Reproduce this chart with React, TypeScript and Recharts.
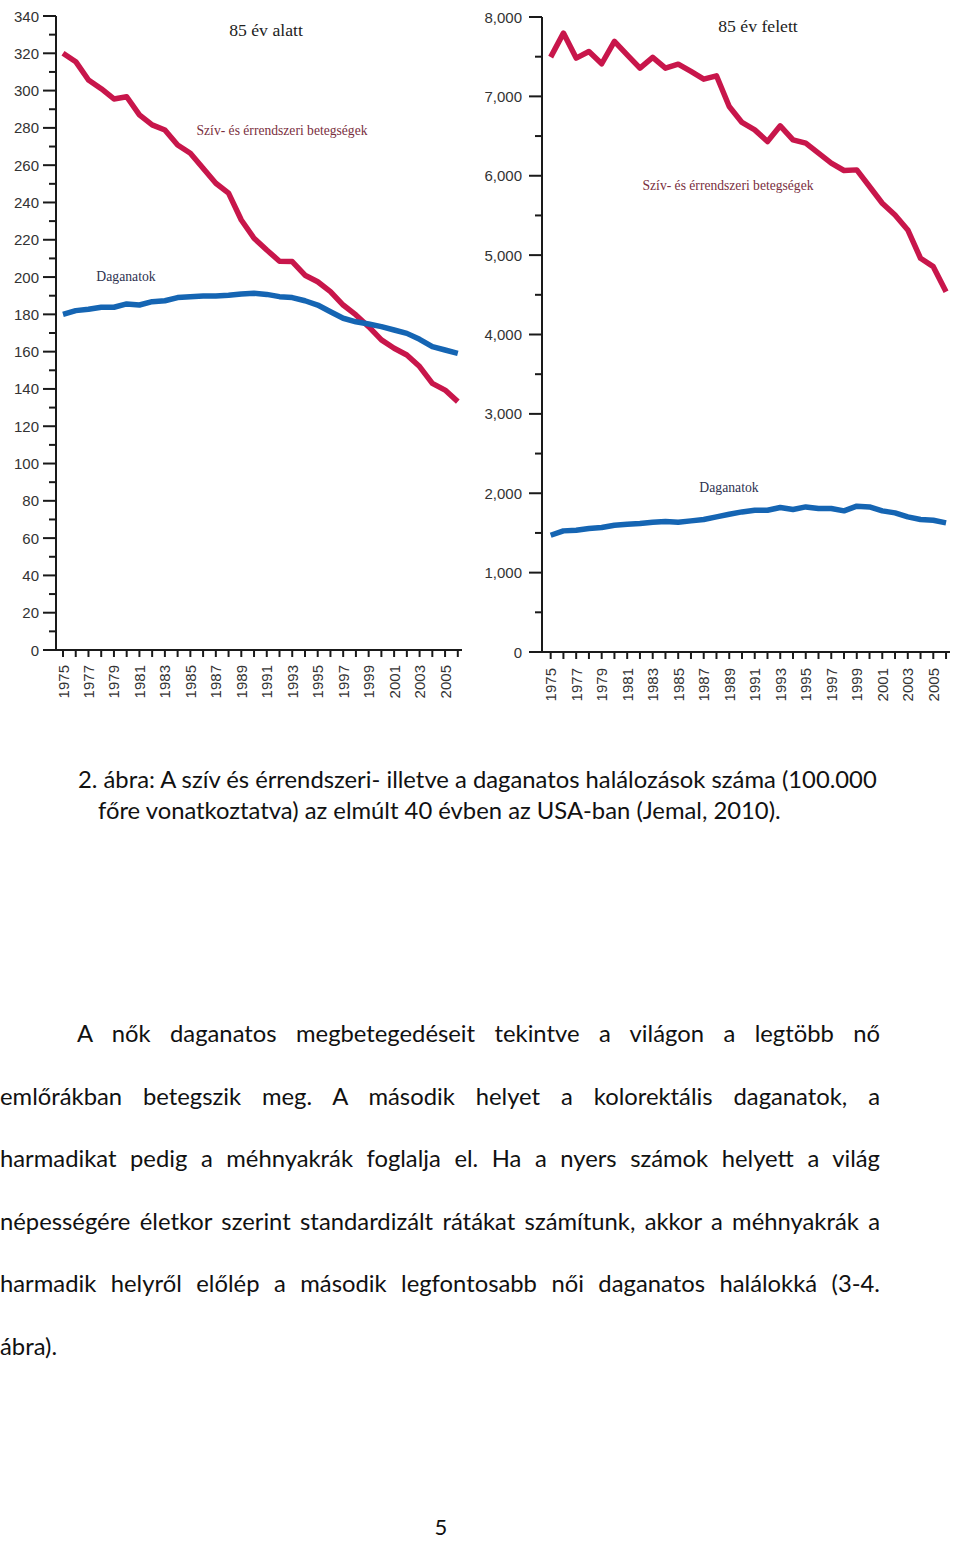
import React from 'react';
import { LineChart, Line, XAxis, YAxis } from 'recharts';

const years = [
  1975, 1976, 1977, 1978, 1979, 1980, 1981, 1982, 1983, 1984, 1985, 1986, 1987, 1988, 1989, 1990,
  1991, 1992, 1993, 1994, 1995, 1996, 1997, 1998, 1999, 2000, 2001, 2002, 2003, 2004, 2005, 2006,
];

// 85 év alatt (per 100,000)
const under85Heart = [
  320, 315.5, 305.7, 301, 295.5, 296.7, 287, 281.6, 278.9, 270.8, 266.4, 258.3, 250.3, 245, 230.6, 220.8,
  214.5, 208.5, 208.3, 201, 197.5, 192.2, 185, 179.7, 173.4, 166.3, 161.8, 158.2, 152, 143, 139.4, 133.2,
];
const under85Cancer = [
  180, 182, 182.7, 183.8, 183.8, 185.6, 185, 186.8, 187.3, 189, 189.5, 189.8, 189.8, 190.2, 190.9, 191.3,
  190.7, 189.5, 189, 187.3, 185, 181.4, 177.9, 176, 174.8, 173.4, 171.6, 169.8, 166.6, 162.7, 160.9, 159.1,
];

// 85 év felett (per 100,000)
const over85Heart = [
  7495, 7797, 7482, 7566, 7411, 7692, 7524, 7356, 7491, 7356, 7406, 7314, 7217, 7259, 6873, 6671,
  6578, 6431, 6629, 6452, 6410, 6284, 6158, 6066, 6074, 5864, 5654, 5506, 5317, 4960, 4855, 4540,
];
const over85Cancer = [
  1471, 1526, 1534, 1555, 1568, 1597, 1610, 1618, 1635, 1643, 1635, 1652, 1669, 1702, 1736, 1765,
  1786, 1786, 1820, 1795, 1828, 1807, 1807, 1778, 1837, 1828, 1778, 1753, 1702, 1669, 1660, 1627,
];

const under85Ticks = [0, 10, 20, 30, 40, 50, 60, 70, 80, 90, 100, 110, 120, 130, 140, 150, 160, 170, 180, 190, 200, 210, 220, 230, 240, 250, 260, 270, 280, 290, 300, 310, 320, 330, 340];
const over85Ticks = [0, 500, 1000, 1500, 2000, 2500, 3000, 3500, 4000, 4500, 5000, 5500, 6000, 6500, 7000, 7500, 8000];

const paragraphLines = [
  'A nők daganatos megbetegedéseit tekintve a világon a legtöbb nő',
  'emlőrákban betegszik meg. A második helyet a kolorektális daganatok, a',
  'harmadikat pedig a méhnyakrák foglalja el. Ha a nyers számok helyett a világ',
  'népességére életkor szerint standardizált rátákat számítunk, akkor a méhnyakrák a',
  'harmadik helyről előlép a második legfontosabb női daganatos halálokká (3-4.',
  'ábra).',
];

const HEART = '#C8164B';
const CANCER = '#1565B3';
const AXIS = '#1a1a1a';
const TICK_FONT = '"Liberation Sans", Arial, sans-serif';
const SERIF = '"Liberation Serif", "Times New Roman", serif';
const BODY_FONT = 'Lato, "Open Sans", sans-serif';

const under85Data = years.map((year, i) => ({ year, heart: under85Heart[i], cancer: under85Cancer[i] }));
const over85Data = years.map((year, i) => ({ year, heart: over85Heart[i], cancer: over85Cancer[i] }));

const makeYTick = (majorStep: number, labelGap: number, fmt: (v: number) => string) => (props: any) => {
  const { x, y, payload } = props;
  const major = payload.value % majorStep === 0;
  return (
    <g>
      {major ? (
        <line x1={x - 13} x2={x} y1={y} y2={y} stroke={AXIS} strokeWidth={2} />
      ) : (
        <line x1={x - 7} x2={x + 1} y1={y} y2={y} stroke={AXIS} strokeWidth={2} />
      )}
      {major && (
        <text x={x - labelGap} y={y} textAnchor="end" dominantBaseline="central" fontSize={15} fill="#333" fontFamily={TICK_FONT}>
          {fmt(payload.value)}
        </text>
      )}
    </g>
  );
};

const makeXTick = (labelGap: number) => (props: any) => {
  const { x, y, payload } = props;
  const labelled = payload.value % 2 === 1;
  const ty = y + labelGap;
  return (
    <g>
      <line x1={x} x2={x} y1={y} y2={y + 7} stroke={AXIS} strokeWidth={2} />
      {labelled && (
        <text x={x} y={ty} transform={`rotate(-90, ${x}, ${ty})`} textAnchor="end" dominantBaseline="central" fontSize={15} fill="#333" fontFamily={TICK_FONT}>
          {payload.value}
        </text>
      )}
    </g>
  );
};

const fmtThousands = (v: number) => v.toLocaleString('en-US');

const Note = ({ x, y, size, color, children }: any) => (
  <div
    style={{
      position: 'absolute', left: x, top: y, transform: 'translate(-50%, -50%)', whiteSpace: 'nowrap',
      fontFamily: SERIF, fontSize: size, color, lineHeight: 1,
    }}
  >
    {children}
  </div>
);

export default function App() {
  return (
    <div style={{ position: 'absolute', left: 0, top: 0, width: 960, height: 1541, background: '#fff', overflow: 'hidden' }}>
      <div style={{ position: 'absolute', left: 0, top: 0 }}>
        <LineChart width={480} height={720} data={under85Data} margin={{ top: 16, right: 18, bottom: 0, left: 0 }}>
          <XAxis
            dataKey="year" type="number" domain={[1974.45, 2006.33]} ticks={years} interval={0}
            height={70} tickSize={0} tickMargin={0} tickLine={false}
            axisLine={{ stroke: AXIS, strokeWidth: 2 }} tick={makeXTick(15)} allowDataOverflow
          />
          <YAxis
            type="number" domain={[0, 340]} ticks={under85Ticks} interval={0} width={56}
            tickSize={0} tickMargin={0} tickLine={false}
            axisLine={{ stroke: AXIS, strokeWidth: 2 }} tick={makeYTick(20, 17, (v) => String(v))}
          />
          <Line dataKey="heart" stroke={HEART} strokeWidth={5.5} dot={false} isAnimationActive={false} strokeLinejoin="round" />
          <Line dataKey="cancer" stroke={CANCER} strokeWidth={5.5} dot={false} isAnimationActive={false} strokeLinejoin="round" />
        </LineChart>
      </div>
      <div style={{ position: 'absolute', left: 480, top: 0 }}>
        <LineChart width={480} height={720} data={over85Data} margin={{ top: 17, right: 10, bottom: 0, left: 0 }}>
          <XAxis
            dataKey="year" type="number" domain={[1974.32, 2006.31]} ticks={years} interval={0}
            height={68} tickSize={0} tickMargin={0} tickLine={false}
            axisLine={{ stroke: AXIS, strokeWidth: 2 }} tick={makeXTick(16)} allowDataOverflow
          />
          <YAxis
            type="number" domain={[0, 8000]} ticks={over85Ticks} interval={0} width={62}
            tickSize={0} tickMargin={0} tickLine={false}
            axisLine={{ stroke: AXIS, strokeWidth: 2 }} tick={makeYTick(1000, 20, fmtThousands)}
          />
          <Line dataKey="heart" stroke={HEART} strokeWidth={5.5} dot={false} isAnimationActive={false} strokeLinejoin="round" />
          <Line dataKey="cancer" stroke={CANCER} strokeWidth={5.5} dot={false} isAnimationActive={false} strokeLinejoin="round" />
        </LineChart>
      </div>

      <Note x={266} y={31} size={17.7} color="#222">85 év alatt</Note>
      <Note x={282} y={131} size={13.6} color="#7a2f3e">Szív- és érrendszeri betegségek</Note>
      <Note x={126} y={277} size={13.7} color="#2e3250">Daganatok</Note>
      <Note x={758} y={27} size={17.7} color="#222">85 év felett</Note>
      <Note x={728} y={186} size={13.6} color="#7a2f3e">Szív- és érrendszeri betegségek</Note>
      <Note x={729} y={488} size={13.7} color="#2e3250">Daganatok</Note>

      <div style={{ position: 'absolute', left: 78, top: 764, fontFamily: BODY_FONT, fontSize: 23.8, lineHeight: '31px', color: '#111', whiteSpace: 'nowrap' }}>
        2. ábra: A szív és érrendszeri- illetve a daganatos halálozások száma (100.000
        <div style={{ paddingLeft: 20 }}>főre vonatkoztatva) az elmúlt 40 évben az USA-ban (Jemal, 2010).</div>
      </div>

      {paragraphLines.map((line, i) => {
        const last = i === paragraphLines.length - 1;
        const left = i === 0 ? 77 : 0;
        return (
          <div
            key={i}
            style={{
              position: 'absolute', left, top: 1033 + i * 62.6 - 16, width: 880 - left,
              fontFamily: BODY_FONT, fontSize: 23.8, lineHeight: '32px', color: '#111',
              textAlign: last ? 'left' : 'justify', textAlignLast: last ? 'left' : 'justify', whiteSpace: 'nowrap',
            }}
          >
            {line}
          </div>
        );
      })}

      <div style={{ position: 'absolute', left: 431, top: 1516, width: 20, textAlign: 'center', fontFamily: BODY_FONT, fontSize: 22, lineHeight: '22px', color: '#111' }}>5</div>
    </div>
  );
}
